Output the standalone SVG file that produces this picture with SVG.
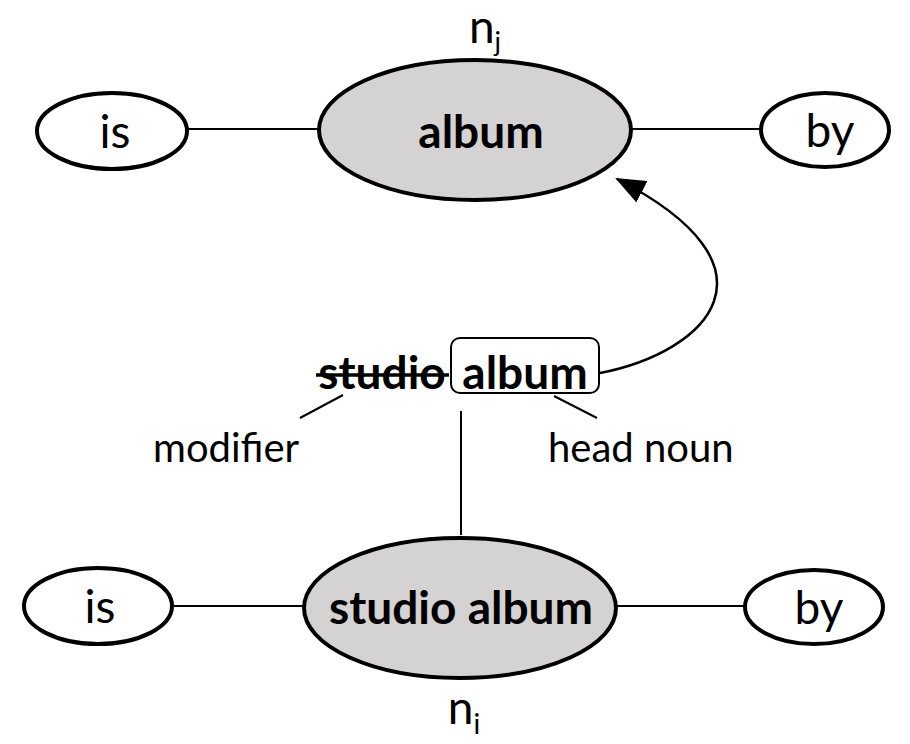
<svg xmlns="http://www.w3.org/2000/svg" width="910" height="744" viewBox="0 0 910 744">
  <style>
    text { font-family: Lato, "Open Sans", "Liberation Sans", sans-serif; fill: #000; }
    .big { font-size: 46px; text-anchor: middle; }
    .bold { font-size: 46px; font-weight: bold; text-anchor: middle; }
    .lbl { font-size: 40px; }
    .node { fill: #fff; stroke: #000; stroke-width: 4; }
    .main { fill: #d4d2d2; stroke: #000; stroke-width: 4; }
    .edge { stroke: #000; stroke-width: 2; fill: none; }
  </style>
  <defs>
    <marker id="arrow" markerWidth="30" markerHeight="24" refX="28" refY="12" orient="auto" markerUnits="userSpaceOnUse" viewBox="0 0 30 24">
      <path d="M0,0 L30,12 L0,24 z" fill="#000"/>
    </marker>
  </defs>

  <!-- connectors -->
  <g id="connectors">
    <line class="edge" x1="187" y1="129" x2="318" y2="129"/>
    <line class="edge" x1="632" y1="129" x2="760" y2="129"/>
    <line class="edge" x1="173" y1="606" x2="303" y2="606"/>
    <line class="edge" x1="617" y1="606" x2="745" y2="606"/>
    <line class="edge" x1="461" y1="411" x2="461" y2="535"/>
    <line class="edge" x1="343" y1="395" x2="300" y2="418"/>
    <line class="edge" x1="554" y1="396" x2="597" y2="418"/>
    <path class="edge" d="M600,373 C708,352 790,268 617,179" marker-end="url(#arrow)" style="stroke-width:2.5"/>
  </g>

  <!-- upper graph -->
  <g id="nj-album">
    <ellipse class="main" cx="475" cy="130" rx="156" ry="70"/>
    <text class="bold" x="481" y="148">album</text>
  </g>
  <g id="nj-is">
    <ellipse class="node" cx="112" cy="131" rx="75" ry="38"/>
    <text class="big" x="115" y="148">is</text>
  </g>
  <g id="nj-by">
    <ellipse class="node" cx="825" cy="130" rx="64" ry="37"/>
    <text class="big" x="830" y="147">by</text>
  </g>
  <text id="nj-label" class="big" x="485" y="43" font-size="40">n<tspan font-size="27" dy="8">j</tspan></text>

  <!-- phrase with struck modifier and boxed head noun -->
  <g id="phrase">
    <text class="bold" x="382" y="389">studio</text>
    <line x1="316" y1="375" x2="449" y2="375" stroke="#000" stroke-width="3.5"/>
    <rect x="451" y="338" width="148" height="55" rx="9" fill="none" stroke="#000" stroke-width="2"/>
    <text class="bold" x="525" y="389">album</text>
  </g>
  <text id="modifier" class="lbl" x="153" y="462">modifier</text>
  <text id="head-noun" class="lbl" x="548" y="462">head noun</text>

  <!-- lower graph -->
  <g id="ni-studio-album">
    <ellipse class="main" cx="460" cy="608" rx="156" ry="70"/>
    <text class="bold" x="461" y="624">studio album</text>
  </g>
  <g id="ni-is">
    <ellipse class="node" cx="98" cy="606" rx="74" ry="38"/>
    <text class="big" x="100" y="623">is</text>
  </g>
  <g id="ni-by">
    <ellipse class="node" cx="814" cy="607" rx="69" ry="37"/>
    <text class="big" x="819" y="624">by</text>
  </g>
  <text id="ni-label" class="big" x="464" y="724" font-size="44">n<tspan font-size="28" dy="10">i</tspan></text>
</svg>
